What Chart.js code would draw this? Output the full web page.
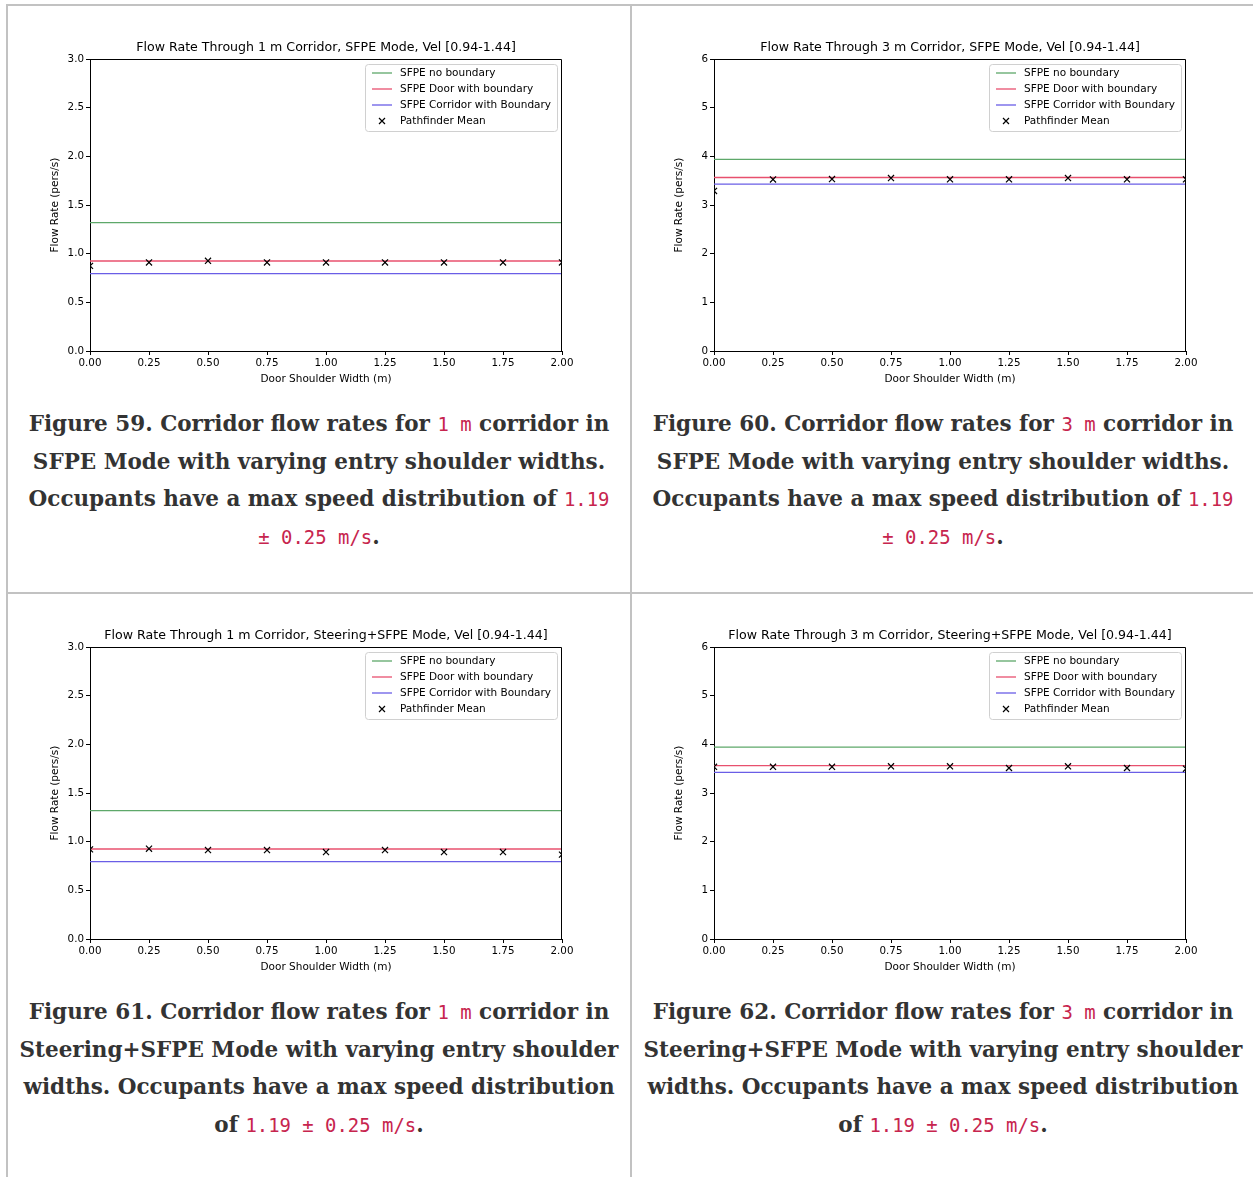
<!DOCTYPE html>
<html>
<head>
<meta charset="utf-8">
<script src="https://cdn.jsdelivr.net/npm/chart.js@4.4.0/dist/chart.umd.min.js"></script>
<style>
  body { margin: 0; background: #fff; width: 1253px; height: 1177px; overflow: hidden; position: relative; }
  .rule { position: absolute; background: #c2c2c2; }
  .cell { position: absolute; width: 622px; height: 586px; }
  .plot { position: absolute; left: 0; top: 20px; width: 622px; height: 370px; }
  .caption {
    position: absolute; left: 0; top: 399px; width: 622px;
    text-align: center; white-space: nowrap;
    font-family: "DejaVu Serif", serif; font-weight: bold;
    font-size: 21.5px; line-height: 37.7px; color: #333;
  }
  .caption code {
    font-family: "DejaVu Sans Mono", monospace; font-weight: normal;
    color: #c7254e; font-size: 0.88em; line-height: 1;
  }
</style>
</head>
<body>

<!-- table rules -->
<div class="rule" style="left:6px;top:4px;width:1247px;height:2px"></div>
<div class="rule" style="left:6px;top:4px;width:2px;height:1173px"></div>
<div class="rule" style="left:630px;top:4px;width:2px;height:1173px"></div>
<div class="rule" style="left:6px;top:592px;width:1247px;height:2px"></div>

<div class="cell" style="left:8px;top:6px">
  <div class="plot"><canvas id="fig59"></canvas></div>
  <div class="caption">Figure 59. Corridor flow rates for <code>1 m</code> corridor in<br>SFPE Mode with varying entry shoulder widths.<br>Occupants have a max speed distribution of <code>1.19</code><br><code>± 0.25 m/s</code>.</div>
</div>
<div class="cell" style="left:632px;top:6px">
  <div class="plot"><canvas id="fig60"></canvas></div>
  <div class="caption">Figure 60. Corridor flow rates for <code>3 m</code> corridor in<br>SFPE Mode with varying entry shoulder widths.<br>Occupants have a max speed distribution of <code>1.19</code><br><code>± 0.25 m/s</code>.</div>
</div>
<div class="cell" style="left:8px;top:594px">
  <div class="plot"><canvas id="fig61"></canvas></div>
  <div class="caption">Figure 61. Corridor flow rates for <code>1 m</code> corridor in<br>Steering+SFPE Mode with varying entry shoulder<br>widths. Occupants have a max speed distribution<br>of <code>1.19 ± 0.25 m/s</code>.</div>
</div>
<div class="cell" style="left:632px;top:594px">
  <div class="plot"><canvas id="fig62"></canvas></div>
  <div class="caption">Figure 62. Corridor flow rates for <code>3 m</code> corridor in<br>Steering+SFPE Mode with varying entry shoulder<br>widths. Occupants have a max speed distribution<br>of <code>1.19 ± 0.25 m/s</code>.</div>
</div>

<script>
// x values: door shoulder width (m)
var shoulderWidths = [0, 0.25, 0.5, 0.75, 1.0, 1.25, 1.5, 1.75, 2.0];

var seriesNames = ["SFPE no boundary", "SFPE Door with boundary", "SFPE Corridor with Boundary", "Pathfinder Mean"];

// one entry per figure: 59, 60, 61, 62
var canvasIds = ["fig59", "fig60", "fig61", "fig62"];
var chartTitles = [
  "Flow Rate Through 1 m Corridor, SFPE Mode, Vel [0.94-1.44]",
  "Flow Rate Through 3 m Corridor, SFPE Mode, Vel [0.94-1.44]",
  "Flow Rate Through 1 m Corridor, Steering+SFPE Mode, Vel [0.94-1.44]",
  "Flow Rate Through 3 m Corridor, Steering+SFPE Mode, Vel [0.94-1.44]"
];
var yMax = [3, 6, 3, 6];
var yStep = [0.5, 1, 0.5, 1];

// SFPE reference flow rates (constant over shoulder width)
var sfpeNoBoundary = [1.32, 3.94, 1.32, 3.945];
var sfpeDoorBoundary = [0.925, 3.567, 0.925, 3.563];
var sfpeCorridorBoundary = [0.795, 3.43, 0.795, 3.427];

// Pathfinder mean flow rates
var meanFig59 = [0.875, 0.91, 0.927, 0.91, 0.91, 0.91, 0.91, 0.91, 0.91];
var meanFig60 = [3.29, 3.527, 3.535, 3.555, 3.53, 3.53, 3.555, 3.53, 3.53];
var meanFig61 = [0.921, 0.928, 0.914, 0.914, 0.894, 0.914, 0.894, 0.894, 0.867];
var meanFig62 = [3.54, 3.54, 3.54, 3.55, 3.55, 3.515, 3.55, 3.515, 3.50];
var pathfinderMeans = [meanFig59, meanFig60, meanFig61, meanFig62];

var lineColors = ["#5ea86a", "#e8506e", "#6a5ee6"];
var fontFamily = "'DejaVu Sans', sans-serif";

// draws the top/right spines and the matplotlib style legend box
var frameLegend = {
  id: "frameLegend",
  afterDraw: function (chart) {
    var ctx = chart.ctx, a = chart.chartArea;
    ctx.save();
    ctx.strokeStyle = "#000";
    ctx.lineWidth = 1;
    ctx.beginPath();
    ctx.moveTo(Math.round(a.left) + 0.5, Math.round(a.top) + 0.5);
    ctx.lineTo(Math.round(a.right) - 0.5, Math.round(a.top) + 0.5);
    ctx.lineTo(Math.round(a.right) - 0.5, Math.round(a.bottom));
    ctx.stroke();

    // legend
    var w = 192, h = 67;
    var bx = Math.round(a.right) - 5 - w, by = Math.round(a.top) + 5;
    ctx.fillStyle = "rgba(255,255,255,0.85)";
    ctx.strokeStyle = "#d0d0d0";
    ctx.beginPath();
    ctx.roundRect(bx + 0.5, by + 0.5, w, h, 3);
    ctx.fill();
    ctx.stroke();
    ctx.font = "10.5px " + fontFamily;
    ctx.textBaseline = "middle";
    ctx.textAlign = "left";
    seriesNames.forEach(function (name, i) {
      var y = by + 9 + i * 16;
      if (i < lineColors.length) {
        ctx.strokeStyle = lineColors[i];
        ctx.lineWidth = 1.3;
        ctx.beginPath();
        ctx.moveTo(bx + 7, y);
        ctx.lineTo(bx + 27, y);
        ctx.stroke();
      } else {
        ctx.strokeStyle = "#000";
        ctx.lineWidth = 1.2;
        ctx.beginPath();
        ctx.moveTo(bx + 14, y - 3); ctx.lineTo(bx + 20, y + 3);
        ctx.moveTo(bx + 20, y - 3); ctx.lineTo(bx + 14, y + 3);
        ctx.stroke();
      }
      ctx.fillStyle = "#000";
      ctx.fillText(name, bx + 35, y + 0.5);
    });
    ctx.restore();
  }
};

function flatLine(value) {
  return [
    { x: shoulderWidths[0], y: value },
    { x: shoulderWidths[shoulderWidths.length - 1], y: value }
  ];
}

function makeChart(i) {
  var refs = [sfpeNoBoundary[i], sfpeDoorBoundary[i], sfpeCorridorBoundary[i]];
  var datasets = refs.map(function (v, k) {
    return {
      label: seriesNames[k],
      data: flatLine(v),
      showLine: true,
      borderColor: lineColors[k],
      borderWidth: 1.3,
      pointRadius: 0,
      order: 1
    };
  });
  datasets.push({
    label: seriesNames[3],
    data: shoulderWidths.map(function (x, j) { return { x: x, y: pathfinderMeans[i][j] }; }),
    showLine: false,
    pointStyle: "crossRot",
    pointRadius: 4.3,
    borderColor: "#000",
    backgroundColor: "#000",
    pointBorderWidth: 1.2,
    clip: 0,
    order: 0
  });

  var tickFont = { family: fontFamily, size: 10.3 };
  var labelFont = { family: fontFamily, size: 10.5 };

  new Chart(document.getElementById(canvasIds[i]), {
    type: "scatter",
    data: { datasets: datasets },
    options: {
      animation: false,
      responsive: true,
      maintainAspectRatio: false,
      // asymmetric padding + hidden right axis keeps the title centred on the plot
      layout: { padding: { left: 14, right: 0, top: 14, bottom: 10 } },
      plugins: {
        legend: { display: false },
        tooltip: { enabled: false },
        title: {
          display: true,
          text: chartTitles[i],
          color: "#000",
          font: { family: fontFamily, size: 12.6, weight: "normal" },
          padding: { top: 0, bottom: 4 }
        }
      },
      scales: {
        x: {
          type: "linear",
          min: 0,
          max: 2,
          afterFit: function (s) { s.height = 35; },
          border: { display: true, color: "#000", width: 1 },
          grid: { drawOnChartArea: false, color: "#000", tickLength: 4 },
          ticks: {
            stepSize: 0.25, color: "#000", padding: 2, maxRotation: 0, font: tickFont,
            callback: function (v) { return v.toFixed(2); }
          },
          title: { display: true, text: "Door Shoulder Width (m)", color: "#000", font: labelFont, padding: 0 }
        },
        y: {
          min: 0,
          max: yMax[i],
          afterFit: function (s) { s.width = 68; },
          border: { display: true, color: "#000", width: 1 },
          grid: { drawOnChartArea: false, color: "#000", tickLength: 4 },
          ticks: {
            stepSize: yStep[i], color: "#000", padding: 2, font: tickFont,
            callback: function (v) { return yStep[i] < 1 ? v.toFixed(1) : String(v); }
          },
          title: { display: true, text: "Flow Rate (pers/s)", color: "#000", font: labelFont, padding: { top: 27, bottom: 0 } }
        },
        yRight: {
          position: "right",
          min: 0,
          max: yMax[i],
          afterFit: function (s) { s.width = 68; },
          border: { display: false },
          grid: { display: false },
          ticks: { display: false }
        }
      }
    },
    plugins: [frameLegend]
  });
}

for (var i = 0; i < canvasIds.length; i++) {
  makeChart(i);
}
</script>
</body>
</html>
